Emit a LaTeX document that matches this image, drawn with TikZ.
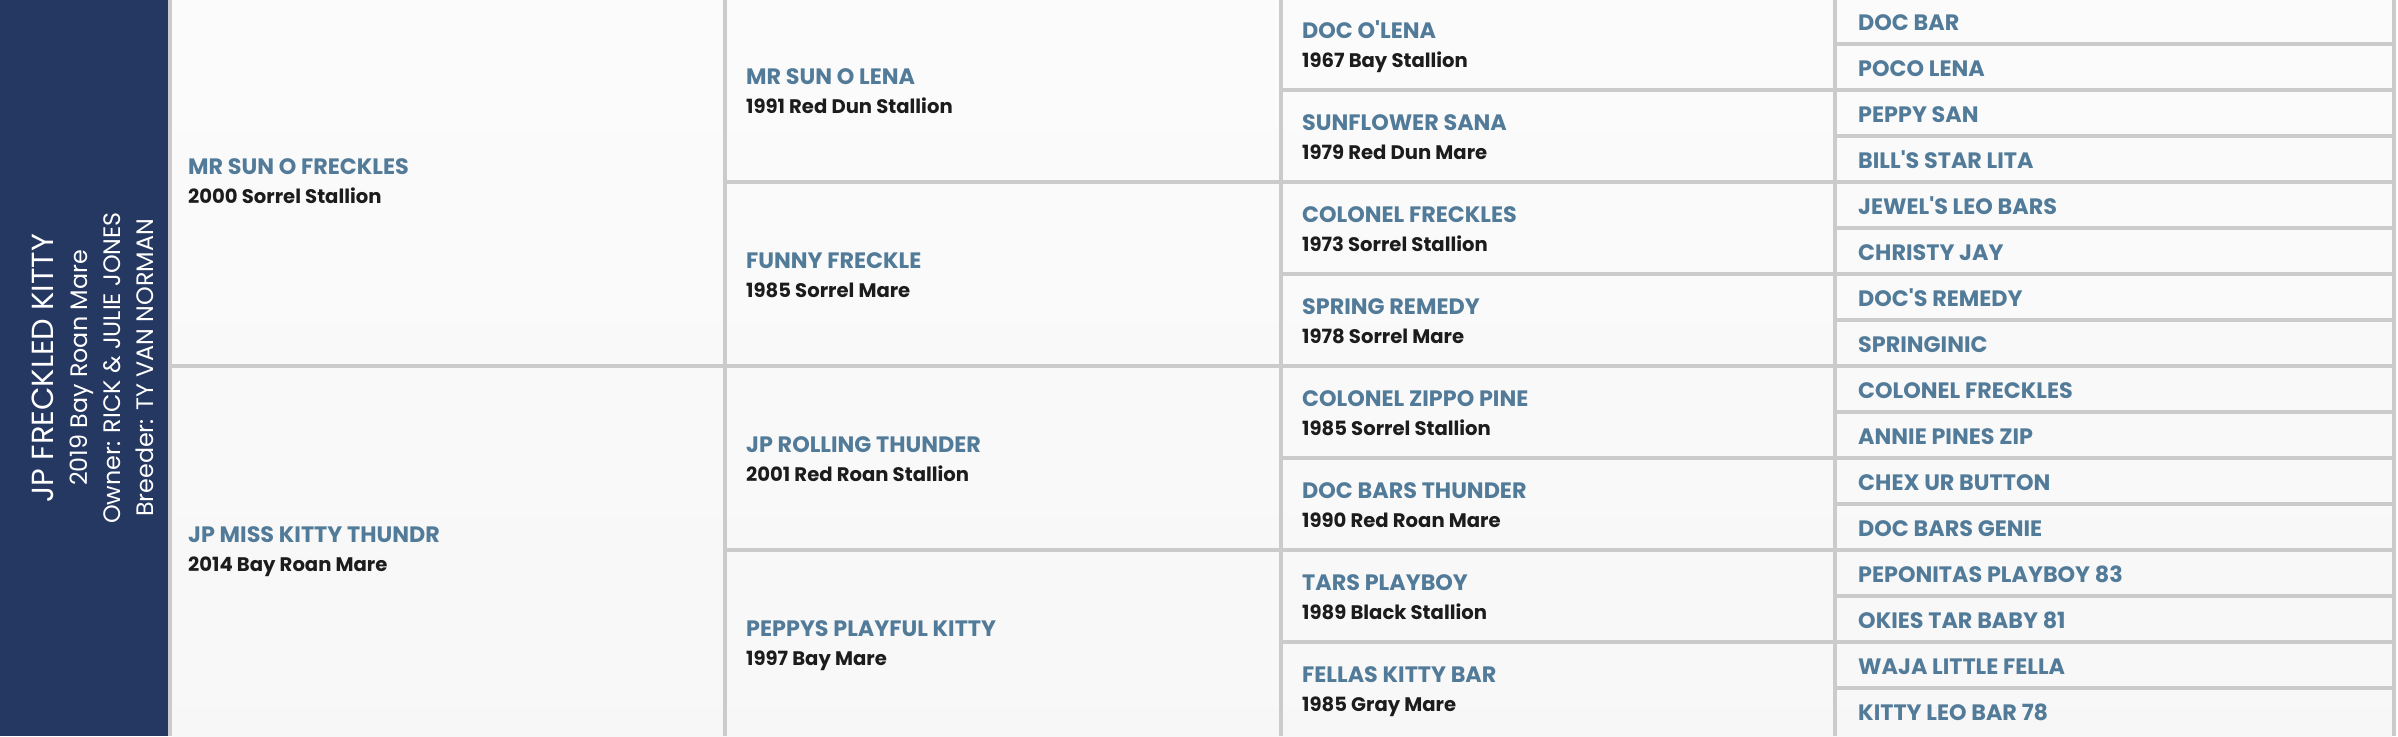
\documentclass[tikz,border=0pt]{standalone}
\usepackage{fontspec}
\setmainfont{Poppins}
\definecolor{navy}{HTML}{253862}
\definecolor{gridgray}{HTML}{CBCBCB}
\definecolor{nameblue}{HTML}{527B99}
\definecolor{subblack}{HTML}{1C1C1C}
\tikzset{
  hname/.style={anchor=base west, inner sep=0pt, text=nameblue, font=\bfseries\fontsize{22.3}{26}\selectfont},
  hsub/.style={anchor=base west, inner sep=0pt, text=subblack, font=\bfseries\fontsize{19.6}{23}\selectfont},
  ptitle/.style={anchor=base, rotate=90, inner sep=0pt, text=white, font=\fontsize{30.5}{34}\selectfont},
  pline/.style={anchor=base, rotate=90, inner sep=0pt, text=white, font=\fontsize{23.8}{27}\selectfont},
  gridline/.style={draw=gridgray, line width=4pt}
}
\begin{document}
\begin{tikzpicture}[x=1pt,y=-1pt]
\useasboundingbox (0,0) rectangle (2398,736);
\fill[white] (0,0) rectangle (2398,736);
% panel
\fill[navy] (0,0) rectangle (168,736);
% cells background
\shade[top color=white!98.5!black, bottom color=white!97!black] (172,0) rectangle (2392,736);
% vertical lines
\foreach \x in {170,725,1280.5,1834.5,2394}
  \draw[gridline] (\x,0) -- (\x,736);
% horizontal lines
\draw[gridline] (170,366) -- (725,366);
\foreach \k in {1,2,3}
  \draw[gridline] (725,184*\k-2) -- (1280.5,184*\k-2);
\foreach \k in {1,...,7}
  \draw[gridline] (1280.5,92*\k-2) -- (1834.5,92*\k-2);
\foreach \k in {1,...,15}
  \draw[gridline] (1834.5,46*\k-2) -- (2394,46*\k-2);
% panel text
\node[ptitle] (t1) at (53,368) {JP FRECKLED KITTY};
\node[pline] (t2) at (87,368) {2019 Bay Roan Mare};
\node[pline] (t3) at (120,368) {Owner: RICK \& JULIE JONES};
\node[pline] (t4) at (153,368) {Breeder: TY VAN NORMAN};
% column 1 (cy = 180, 548)
\node[hname] (s) at (188,174.5) {MR SUN O FRECKLES};
\node[hsub] (s-d) at (188,203) {2000 Sorrel Stallion};
\node[hname] (d) at (188,542.5) {JP MISS KITTY THUNDR};
\node[hsub] (d-d) at (188,571) {2014 Bay Roan Mare};
% column 2 (cy = 90, 274, 458, 642)
\node[hname] (ss) at (746,84.5) {MR SUN O LENA};
\node[hsub] (ss-d) at (746,113) {1991 Red Dun Stallion};
\node[hname] (sd) at (746,268.5) {FUNNY FRECKLE};
\node[hsub] (sd-d) at (746,297) {1985 Sorrel Mare};
\node[hname] (ds) at (746,452.5) {JP ROLLING THUNDER};
\node[hsub] (ds-d) at (746,481) {2001 Red Roan Stallion};
\node[hname] (dd) at (746,636.5) {PEPPYS PLAYFUL KITTY};
\node[hsub] (dd-d) at (746,665) {1997 Bay Mare};
% column 3 (cy = 44 + 92k)
\node[hname] (sss) at (1302,38.5) {DOC O\textquotesingle LENA};
\node[hsub] (sss-d) at (1302,67) {1967 Bay Stallion};
\node[hname] (ssd) at (1302,130.5) {SUNFLOWER SANA};
\node[hsub] (ssd-d) at (1302,159) {1979 Red Dun Mare};
\node[hname] (sds) at (1302,222.5) {COLONEL FRECKLES};
\node[hsub] (sds-d) at (1302,251) {1973 Sorrel Stallion};
\node[hname] (sdd) at (1302,314.5) {SPRING REMEDY};
\node[hsub] (sdd-d) at (1302,343) {1978 Sorrel Mare};
\node[hname] (dss) at (1302,406.5) {COLONEL ZIPPO PINE};
\node[hsub] (dss-d) at (1302,435) {1985 Sorrel Stallion};
\node[hname] (dsd) at (1302,498.5) {DOC BARS THUNDER};
\node[hsub] (dsd-d) at (1302,527) {1990 Red Roan Mare};
\node[hname] (dds) at (1302,590.5) {TARS PLAYBOY};
\node[hsub] (dds-d) at (1302,619) {1989 Black Stallion};
\node[hname] (ddd) at (1302,682.5) {FELLAS KITTY BAR};
\node[hsub] (ddd-d) at (1302,711) {1985 Gray Mare};
% column 4 (baseline = 30 + 46k)
\node[hname] (g1) at (1858,30) {DOC BAR};
\node[hname] (g2) at (1858,76) {POCO LENA};
\node[hname] (g3) at (1858,122) {PEPPY SAN};
\node[hname] (g4) at (1858,168) {BILL\textquotesingle S STAR LITA};
\node[hname] (g5) at (1858,214) {JEWEL\textquotesingle S LEO BARS};
\node[hname] (g6) at (1858,260) {CHRISTY JAY};
\node[hname] (g7) at (1858,306) {DOC\textquotesingle S REMEDY};
\node[hname] (g8) at (1858,352) {SPRINGINIC};
\node[hname] (g9) at (1858,398) {COLONEL FRECKLES};
\node[hname] (g10) at (1858,444) {ANNIE PINES ZIP};
\node[hname] (g11) at (1858,490) {CHEX UR BUTTON};
\node[hname] (g12) at (1858,536) {DOC BARS GENIE};
\node[hname] (g13) at (1858,582) {PEPONITAS PLAYBOY 83};
\node[hname] (g14) at (1858,628) {OKIES TAR BABY 81};
\node[hname] (g15) at (1858,674) {WAJA LITTLE FELLA};
\node[hname] (g16) at (1858,720) {KITTY LEO BAR 78};
\end{tikzpicture}
\end{document}
